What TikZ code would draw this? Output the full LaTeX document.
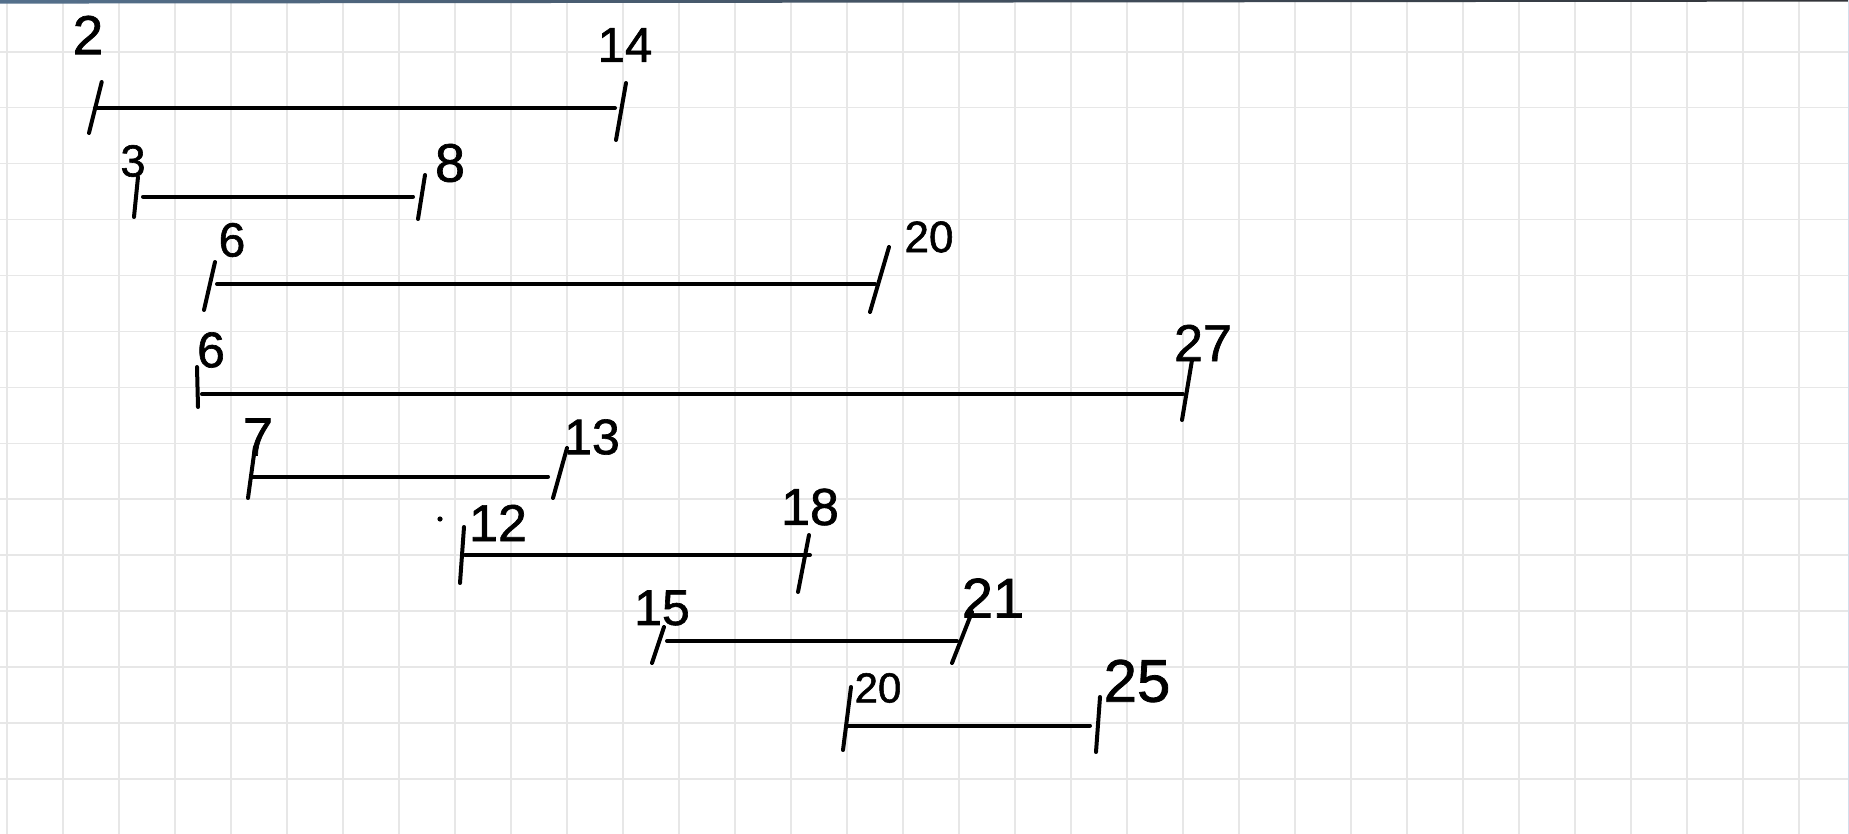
\documentclass[tikz,border=0pt]{standalone}
\usepackage{fontspec}
\setmainfont{Liberation Sans}
\newfontfamily\handfont[FakeBold=1.3]{Liberation Sans}
\definecolor{gridgray}{RGB}{231,231,231}
\definecolor{topleft}{RGB}{84,112,140}
\definecolor{topright}{RGB}{50,52,56}
\definecolor{edgeblue}{RGB}{210,222,236}
\tikzset{
  gridline/.style={draw=gridgray, line width=1.7pt},
  pen/.style={draw=black, line width=4pt, line cap=round, line join=round},
  lbl/.style={inner sep=0pt, anchor=center, text=black, font=\handfont\fontsize{#1pt}{#1pt}\selectfont},
}
\begin{document}
\begin{tikzpicture}[x=1pt,y=-1pt]
\useasboundingbox (0,0) rectangle (1849,834);
\fill[white] (0,0) rectangle (1849,834);
% grid
\foreach \k in {0,...,32} { \draw[gridline] ({7.3+56*\k},0) -- ({7.3+56*\k},834); }
\foreach \k in {0,...,13} { \draw[gridline] (0,{51.7+55.95*\k}) -- (1849,{51.7+55.95*\k}); }
% top bar and right edge
\shade[left color=topleft, right color=topright] (0,0) -- (1849,0) -- (1849,1.6) -- (0,3.6) -- cycle;
\draw[edgeblue, line width=1.2pt] (1848.4,0) -- (1848.4,834);

% interval 2..14
\coordinate (a1t) at (101.7,82); \coordinate (a1b) at (89,133);
\coordinate (a1s) at (95,108);   \coordinate (a1e) at (615,108);
\coordinate (b1t) at (626,83);   \coordinate (b1b) at (616,140);
\draw[pen] (a1t) -- (a1b); \draw[pen] (a1s) -- (a1e); \draw[pen] (b1t) -- (b1b);
\node[lbl=55] (l1a) at (88,35) {2};
\node[lbl=49] (l1b) at (625,45) {14};

% interval 3..8
\coordinate (a2t) at (138,177); \coordinate (a2b) at (134,217);
\coordinate (a2s) at (143,196.7); \coordinate (a2e) at (413,196.7);
\coordinate (b2t) at (425,175); \coordinate (b2b) at (418,219);
\draw[pen] (a2t) -- (a2b); \draw[pen] (a2s) -- (a2e); \draw[pen] (b2t) -- (b2b);
\node[lbl=45] (l2a) at (133,161) {3};
\node[lbl=54] (l2b) at (450,163) {8};

% interval 6..20
\coordinate (a3t) at (215,262); \coordinate (a3b) at (204,310);
\coordinate (a3s) at (217,284); \coordinate (a3e) at (875,284);
\coordinate (b3t) at (889,247); \coordinate (b3b) at (870,312);
\draw[pen] (a3t) -- (a3b); \draw[pen] (a3s) -- (a3e); \draw[pen] (b3t) -- (b3b);
\node[lbl=48] (l3a) at (232,240) {6};
\node[lbl=44] (l3b) at (929,237) {20};

% interval 6..27
\coordinate (a4t) at (197,367); \coordinate (a4b) at (198,407);
\coordinate (a4s) at (202,394.3); \coordinate (a4e) at (1183,394.3);
\coordinate (b4t) at (1192,360); \coordinate (b4b) at (1182,420);
\draw[pen] (a4t) -- (a4b); \draw[pen] (a4s) -- (a4e); \draw[pen] (b4t) -- (b4b);
\node[lbl=50] (l4a) at (211,350) {6};
\node[lbl=52] (l4b) at (1203,343) {27};

% interval 7..13
\coordinate (a5t) at (255,447); \coordinate (a5b) at (248,498);
\coordinate (a5s) at (252,476.7); \coordinate (a5e) at (548,476.7);
\coordinate (b5t) at (567,448); \coordinate (b5b) at (553,498);
\draw[pen] (a5t) -- (a5b); \draw[pen] (a5s) -- (a5e); \draw[pen] (b5t) -- (b5b);
\node[lbl=54] (l5a) at (258,437) {7};
\node[lbl=50] (l5b) at (592,437) {13};

% interval 12..18
\coordinate (a6t) at (464,527); \coordinate (a6b) at (460,583);
\coordinate (a6s) at (465,555); \coordinate (a6e) at (810,555);
\coordinate (b6t) at (809,535); \coordinate (b6b) at (798,592);
\draw[pen] (a6t) -- (a6b); \draw[pen] (a6s) -- (a6e); \draw[pen] (b6t) -- (b6b);
\node[lbl=52] (l6a) at (498,523) {12};
\node[lbl=52] (l6b) at (810,507) {18};
\fill[black] (440,519) circle (2.6) coordinate (dot);

% interval 15..21
\coordinate (a7t) at (664,627); \coordinate (a7b) at (652,663);
\coordinate (a7s) at (667,641); \coordinate (a7e) at (957,641);
\coordinate (b7t) at (972,612); \coordinate (b7b) at (952,663);
\draw[pen] (a7t) -- (a7b); \draw[pen] (a7s) -- (a7e); \draw[pen] (b7t) -- (b7b);
\node[lbl=50] (l7a) at (662,608) {15};
\node[lbl=56] (l7b) at (993,598) {21};

% interval 20..25
\coordinate (a8t) at (851,687); \coordinate (a8b) at (843,750);
\coordinate (a8s) at (848,725.5); \coordinate (a8e) at (1090,725.5);
\coordinate (b8t) at (1100,697); \coordinate (b8b) at (1096,752);
\draw[pen] (a8t) -- (a8b); \draw[pen] (a8s) -- (a8e); \draw[pen] (b8t) -- (b8b);
\node[lbl=42] (l8a) at (878,688) {20};
\node[lbl=60] (l8b) at (1137,681) {25};
\end{tikzpicture}
\end{document}
